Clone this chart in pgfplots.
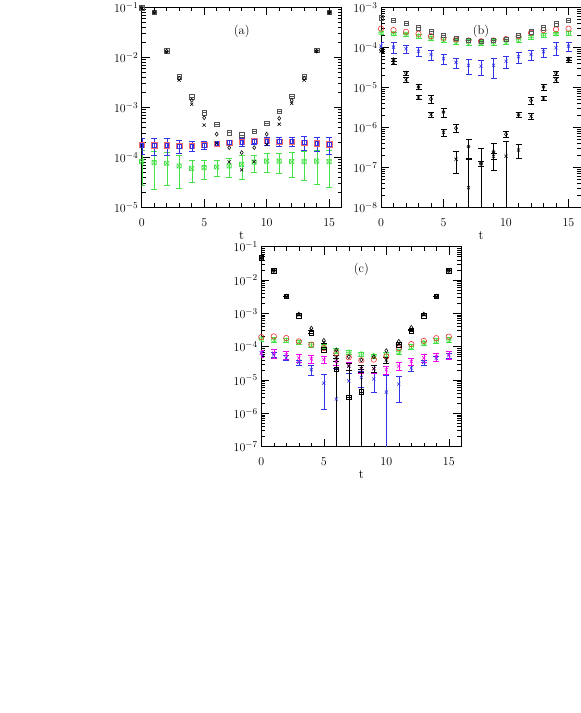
\documentclass[border=0pt]{standalone}
\usepackage{pgfplots}
\pgfplotsset{compat=1.18}

\definecolor{pRed}{RGB}{240,40,40}
\definecolor{pGreen}{RGB}{70,225,70}
\definecolor{pBlue}{RGB}{50,50,230}
\definecolor{pMag}{RGB}{240,0,240}
\definecolor{pGray}{RGB}{85,85,85}

% square with a bar, square with a cross
\pgfdeclareplotmark{sqline}{%
  \pgfpathrectangle{\pgfpoint{-\pgfplotmarksize}{-\pgfplotmarksize}}{\pgfpoint{2\pgfplotmarksize}{2\pgfplotmarksize}}%
  \pgfpathmoveto{\pgfpoint{-\pgfplotmarksize}{0pt}}%
  \pgfpathlineto{\pgfpoint{\pgfplotmarksize}{0pt}}%
  \pgfusepathqstroke}
\pgfdeclareplotmark{sqx}{%
  \pgfpathrectangle{\pgfpoint{-\pgfplotmarksize}{-\pgfplotmarksize}}{\pgfpoint{2\pgfplotmarksize}{2\pgfplotmarksize}}%
  \pgfpathmoveto{\pgfpoint{-\pgfplotmarksize}{-\pgfplotmarksize}}%
  \pgfpathlineto{\pgfpoint{\pgfplotmarksize}{\pgfplotmarksize}}%
  \pgfpathmoveto{\pgfpoint{-\pgfplotmarksize}{\pgfplotmarksize}}%
  \pgfpathlineto{\pgfpoint{\pgfplotmarksize}{-\pgfplotmarksize}}%
  \pgfusepathqstroke}

\pgfplotsset{
  ebar/.style={only marks, line width=0.55pt,
    error bars/y dir=both, error bars/y explicit,
    error bars/error mark options={rotate=90, mark size=3pt, line width=0.6pt}},
  dots/.style={only marks, line width=0.55pt},
}

\begin{document}
\begin{tikzpicture}
\useasboundingbox (0,0) rectangle (581pt,713pt);

% ---------------- (a) ----------------
\begin{axis}[at={(141.7pt,505.7pt)}, anchor=south west,
  scale only axis, width=200pt, height=200pt,
  ymode=log, xmin=0, xmax=16,
  xtick={0,5,10,15}, minor x tick num=4,
  tick align=inside, major tick length=8pt, minor tick length=4pt,
  axis line style={line width=0.8pt},
  every tick/.append style={line width=0.6pt, black},
  tick label style={font=\fontsize{13}{15}\selectfont},
  xticklabel style={yshift=-8pt},
  xlabel={t}, xlabel style={font=\fontsize{13}{14}\selectfont, yshift=2pt},
  mark size=2.2pt,
  ymin=1e-5, ymax=1e-1, ytick={1e-5,1e-4,1e-3,1e-2,1e-1}]
\addplot[pGreen, mark=sqx, ebar] coordinates {
  (0,8.2e-5) +- (0,5.5e-5) (1,7.8e-5) +- (0,5.5e-5) (2,7.6e-5) +- (0,4.8e-5)
  (3,6.7e-5) +- (0,4.3e-5) (4,6.0e-5) +- (0,2.9e-5) (5,6.2e-5) +- (0,2.5e-5)
  (6,6.4e-5) +- (0,2.3e-5) (7,6.7e-5) +- (0,2.8e-5) (8,7.2e-5) +- (0,3.6e-5)
  (9,8.0e-5) +- (0,3.0e-5) (10,8.4e-5) +- (0,3.4e-5) (11,8.4e-5) +- (0,3.7e-5)
  (12,8.2e-5) +- (0,4.2e-5) (13,8.2e-5) +- (0,4.7e-5) (14,8.4e-5) +- (0,5.5e-5)
  (15,8.2e-5) +- (0,5.7e-5)
};
\addplot[pRed!70!white, mark=square, mark size=2.6pt, dots] coordinates {
  (0,1.76e-4) (1,1.74e-4) (2,1.74e-4) (3,1.69e-4) (4,1.68e-4) (5,1.76e-4)
  (6,1.88e-4) (7,1.97e-4) (8,2.02e-4) (9,2.12e-4) (10,2.12e-4) (11,2.06e-4)
  (12,2.06e-4) (13,1.97e-4) (14,1.90e-4) (15,1.82e-4)
};
\addplot[pBlue, mark=square, mark size=1.9pt, ebar] coordinates {
  (0,1.76e-4) +- (0,6.0e-5) (1,1.74e-4) +- (0,6.4e-5) (2,1.74e-4) +- (0,6.4e-5)
  (3,1.69e-4) +- (0,5.0e-5) (4,1.68e-4) +- (0,3.8e-5) (5,1.76e-4) +- (0,3.0e-5)
  (6,1.88e-4) +- (0,1.5e-5) (7,1.97e-4) +- (0,2.2e-5) (8,2.02e-4) +- (0,3.5e-5)
  (9,2.12e-4) +- (0,3.3e-5) (10,2.12e-4) +- (0,4.0e-5) (11,2.06e-4) +- (0,4.2e-5)
  (12,2.06e-4) +- (0,4.2e-5) (13,1.97e-4) +- (0,6.2e-5) (14,1.90e-4) +- (0,6.1e-5)
  (15,1.82e-4) +- (0,6.6e-5)
};
\addplot[pGray, mark=sqline, dots] coordinates {
  (0,0.098) (1,0.080) (2,0.0135) (3,0.0041) (4,0.00161) (5,7.8e-4) (6,4.6e-4)
  (7,3.1e-4) (8,2.8e-4) (9,3.3e-4) (10,4.8e-4) (11,8.4e-4) (12,1.68e-3)
  (13,4.1e-3) (14,0.0138) (15,0.0805)
};
\addplot[black, mark=diamond, mark size=2pt, dots] coordinates {
  (0,0.098) (1,0.080) (2,0.0133) (3,0.0038) (4,0.00138) (5,6.2e-4) (6,2.9e-4)
  (7,1.56e-4) (8,1.24e-4) (9,1.56e-4) (10,2.9e-4) (11,6.0e-4) (12,1.38e-3)
  (13,3.8e-3) (14,0.0133) (15,0.079)
};
\addplot[black, mark=x, mark size=2.2pt, dots] coordinates {
  (0,0.097) (1,0.079) (2,0.013) (3,0.0035) (4,0.00115) (5,4.4e-4) (6,1.9e-4)
  (7,8.1e-5) (8,5.6e-5) (9,8.2e-5) (10,1.8e-4) (11,4.6e-4) (12,1.2e-3)
  (13,3.5e-3) (14,0.0132) (15,0.078)
};
\node[font=\fontsize{12.5}{14}\selectfont] at (rel axis cs:0.5,0.88) {(a)};
\end{axis}

% ---------------- (b) ----------------
\begin{axis}[at={(381pt,505.7pt)}, anchor=south west,
  scale only axis, width=200pt, height=200pt,
  ymode=log, xmin=0, xmax=16,
  xtick={0,5,10,15}, minor x tick num=4,
  tick align=inside, major tick length=8pt, minor tick length=4pt,
  axis line style={line width=0.8pt},
  every tick/.append style={line width=0.6pt, black},
  tick label style={font=\fontsize{13}{15}\selectfont},
  xticklabel style={yshift=-8pt},
  xlabel={t}, xlabel style={font=\fontsize{13}{14}\selectfont, yshift=2pt},
  mark size=2.2pt,
  ymin=1e-8, ymax=1e-3, ytick={1e-8,1e-7,1e-6,1e-5,1e-4,1e-3}]
\addplot[pBlue, mark=x, ebar] coordinates {
  (0,1.07e-4) +- (0,2.5e-5) (1,1.01e-4) +- (0,2.9e-5) (2,9.2e-5) +- (0,2.1e-5)
  (3,8.0e-5) +- (0,2.0e-5) (4,6.6e-5) +- (0,1.9e-5) (5,5.2e-5) +- (0,1.4e-5)
  (6,4.2e-5) +- (0,1.2e-5) (7,3.55e-5) +- (0,1.4e-5) (8,3.35e-5) +- (0,1.3e-5)
  (9,3.55e-5) +- (0,1.9e-5) (10,4.5e-5) +- (0,1.5e-5) (11,5.8e-5) +- (0,1.8e-5)
  (12,6.6e-5) +- (0,1.9e-5) (13,7.7e-5) +- (0,2.0e-5) (14,9.7e-5) +- (0,3.3e-5)
  (15,1.07e-4) +- (0,2.7e-5)
};
\addplot[pGreen, mark=oplus, mark size=2.4pt, ebar] coordinates {
  (0,2.31e-4) +- (0,2e-5) (1,2.18e-4) +- (0,2e-5) (2,2.10e-4) +- (0,2e-5)
  (3,1.90e-4) +- (0,2e-5) (4,1.69e-4) +- (0,2e-5) (5,1.57e-4) +- (0,2e-5)
  (6,1.42e-4) +- (0,2e-5) (7,1.34e-4) +- (0,2e-5) (8,1.30e-4) +- (0,2e-5)
  (9,1.34e-4) +- (0,2e-5) (10,1.42e-4) +- (0,2e-5) (11,1.57e-4) +- (0,2e-5)
  (12,1.75e-4) +- (0,2e-5) (13,2.0e-4) +- (0,2e-5) (14,2.18e-4) +- (0,2e-5)
  (15,2.25e-4) +- (0,2e-5)
};
\addplot[pRed, mark=o, mark size=2.7pt, dots] coordinates {
  (0,2.92e-4) (1,2.69e-4) (2,2.45e-4) (3,2.18e-4) (4,1.90e-4) (5,1.73e-4)
  (6,1.57e-4) (7,1.48e-4) (8,1.42e-4) (9,1.48e-4) (10,1.60e-4) (11,1.90e-4)
  (12,2.31e-4) (13,2.69e-4) (14,2.80e-4) (15,2.92e-4)
};
\addplot[pGray, mark=sqline, dots] coordinates {
  (0,5.5e-4) (1,4.8e-4) (2,3.96e-4) (3,3.09e-4) (4,2.45e-4) (5,1.98e-4)
  (6,1.66e-4) (7,1.51e-4) (8,1.42e-4) (9,1.51e-4) (10,1.60e-4) (11,1.98e-4)
  (12,2.45e-4) (13,3.09e-4) (14,3.89e-4) (15,4.8e-4)
};
\addplot[black, mark=diamond, mark size=2pt, ebar] coordinates {
  (0,8.7e-5) +- (0,1e-5) (1,4.9e-5) +- (0,5e-6) (2,2.28e-5) +- (0,3e-6)
  (3,1.02e-5) +- (0,1.5e-6) (4,5.1e-6) +- (0,1.2e-6) (5,2.4e-6) +- (0,6e-7)
  (6,9.5e-7) +- (0,2.2e-7) (7,3.3e-7) +- (0,1.7e-7)
  (8,1.25e-7) += (0,1.7e-7) -= (0,1.24e-7)
  (9,2.45e-7) +- (0,1.6e-7) (10,6.7e-7) +- (0,1.2e-7) (11,2.05e-6) +- (0,3e-7)
  (12,4.7e-6) +- (0,1.0e-6) (13,1.02e-5) +- (0,2e-6) (14,2.28e-5) +- (0,3e-6)
  (15,5.1e-5) +- (0,5e-6)
};
\addplot[black, mark=x, ebar] coordinates {
  (0,8.0e-5) +- (0,5e-6) (1,4.1e-5) +- (0,3e-6) (2,1.55e-5) +- (0,2e-6)
  (3,5.7e-6) +- (0,6e-7) (4,2.1e-6) +- (0,3e-7) (5,7.5e-7) +- (0,1.5e-7)
  (6,1.6e-7) +- (0,9e-8) (7,3.1e-8) += (0,1.4e-7) -= (0,3.0e-8)
  (8,1.25e-7) +- (0,2e-8) (9,1.9e-7) +- (0,3e-8)
  (10,1.9e-7) += (0,2.5e-7) -= (0,1.89e-7)
  (11,2.7e-7) +- (0,1e-7) (12,1.9e-6) +- (0,3e-7) (13,5.4e-6) +- (0,6e-7)
  (14,1.55e-5) +- (0,2e-6) (15,4.5e-5) +- (0,3e-6)
};
\node[font=\fontsize{12.5}{14}\selectfont] at (rel axis cs:0.5,0.88) {(b)};
\end{axis}

% ---------------- (c) ----------------
\begin{axis}[at={(261.3pt,266.3pt)}, anchor=south west,
  scale only axis, width=200pt, height=200pt,
  ymode=log, xmin=0, xmax=16,
  xtick={0,5,10,15}, minor x tick num=4,
  tick align=inside, major tick length=8pt, minor tick length=4pt,
  axis line style={line width=0.8pt},
  every tick/.append style={line width=0.6pt, black},
  tick label style={font=\fontsize{13}{15}\selectfont},
  xticklabel style={yshift=-8pt},
  xlabel={t}, xlabel style={font=\fontsize{13}{14}\selectfont, yshift=2pt},
  mark size=2.2pt,
  ymin=1e-7, ymax=1e-1, ytick={1e-7,1e-6,1e-5,1e-4,1e-3,1e-2,1e-1}]
\addplot[pBlue, mark=x, ebar] coordinates {
  (0,6.5e-5) +- (0,1e-5) (1,5.75e-5) +- (0,1e-5) (2,4.6e-5) +- (0,8e-6)
  (3,3.4e-5) +- (0,6e-6) (4,2.04e-5) +- (0,7e-6) (5,8.1e-6) +- (0,6.8e-6)
  (6,2.7e-6) += (0,2.0e-5) -= (0,2.69e-6)
  (7,9.4e-6) +- (0,6e-6) (8,1.2e-5) +- (0,6e-6) (9,1.07e-5) +- (0,6.5e-6)
  (10,4.35e-6) += (0,1.0e-5) -= (0,4.34e-6)
  (11,7.6e-6) +- (0,5.5e-6) (12,2.3e-5) +- (0,5e-6) (13,3.4e-5) +- (0,6e-6)
  (14,4.5e-5) +- (0,8e-6) (15,5.5e-5) +- (0,1e-5)
};
\addplot[pMag, mark=x, ebar] coordinates {
  (0,6.4e-5) +- (0,1.5e-5) (1,6.4e-5) +- (0,2e-5) (2,5.75e-5) +- (0,1.5e-5)
  (3,4.6e-5) +- (0,1.2e-5) (4,4.3e-5) +- (0,1.1e-5) (5,4.1e-5) +- (0,1e-5)
  (6,3.6e-5) +- (0,9e-6) (7,2.7e-5) +- (0,7e-6) (8,2.2e-5) +- (0,6e-6)
  (9,2.2e-5) +- (0,6e-6) (10,2.04e-5) +- (0,6e-6) (11,2.6e-5) +- (0,7e-6)
  (12,3.6e-5) +- (0,9e-6) (13,4.6e-5) +- (0,1.2e-5) (14,5.1e-5) +- (0,1.4e-5)
  (15,5.75e-5) +- (0,1.5e-5)
};
\addplot[pGreen, mark=oplus, mark size=2.4pt, ebar] coordinates {
  (0,1.7e-4) +- (0,2.5e-5) (1,1.62e-4) +- (0,2.5e-5) (2,1.55e-4) +- (0,2.3e-5)
  (3,1.35e-4) +- (0,2e-5) (4,1.15e-4) +- (0,1.7e-5) (5,1.02e-4) +- (0,1.5e-5)
  (6,7.7e-5) +- (0,1.2e-5) (7,6.8e-5) +- (0,1e-5) (8,6.0e-5) +- (0,9e-6)
  (9,5.3e-5) +- (0,8e-6) (10,5.75e-5) +- (0,9e-6) (11,7.2e-5) +- (0,1.1e-5)
  (12,1.0e-4) +- (0,1.5e-5) (13,1.3e-4) +- (0,2e-5) (14,1.5e-4) +- (0,2.3e-5)
  (15,1.65e-4) +- (0,2.5e-5)
};
\addplot[pRed, mark=o, mark size=2.7pt, dots] coordinates {
  (0,1.95e-4) (1,2.04e-4) (2,1.82e-4) (3,1.45e-4) (4,1.15e-4) (5,9.1e-5)
  (6,6.4e-5) (7,4.8e-5) (8,3.9e-5) (9,4.1e-5) (10,5.1e-5) (11,9.0e-5)
  (12,1.2e-4) (13,1.5e-4) (14,1.8e-4) (15,2.0e-4)
};
\addplot[black, mark=sqline, ebar] coordinates {
  (0,0.046) +- (0,0) (1,0.0191) +- (0,0) (2,3.2e-3) +- (0,0) (3,8.5e-4) +- (0,0)
  (4,2.57e-4) +- (0,0) (5,8.1e-5) +- (0,0)
  (6,2.1e-5) += (0,2.5e-5) -= (0,2.09e-5)
  (7,3.1e-6) += (0,1.7e-5) -= (0,3.09e-6)
  (8,4.4e-6) += (0,1.7e-5) -= (0,4.39e-6)
  (11,1.15e-4) +- (0,0) (12,3.0e-4) +- (0,0) (13,8.5e-4) +- (0,0)
  (14,3.2e-3) +- (0,0) (15,0.0191) +- (0,0)
};
\addplot[black, mark=diamond, mark size=2pt, dots] coordinates {
  (0,0.046) (1,0.0191) (2,3.3e-3) (3,9.5e-4) (4,3.6e-4) (5,1.55e-4) (6,8e-5)
  (7,5e-5) (8,4e-5) (9,5e-5) (10,7.6e-5) (11,1.45e-4) (12,3.8e-4) (13,9.5e-4)
  (14,3.3e-3) (15,0.0191)
};
\addplot[black, mark=x, ebar] coordinates {
  (0,0.046) +- (0,0) (1,0.0191) +- (0,0) (2,3.2e-3) +- (0,0) (3,9e-4) +- (0,0)
  (4,3.2e-4) +- (0,0) (5,1.3e-4) +- (0,0) (6,4.6e-5) +- (0,1e-5)
  (7,2.6e-5) +- (0,6e-6) (8,2.2e-5) +- (0,5e-6) (9,2.2e-5) +- (0,5e-6)
  (10,4.0e-5) +- (0,8e-6) (11,1.2e-4) +- (0,0) (12,3.4e-4) +- (0,0)
  (13,9e-4) +- (0,0) (14,3.2e-3) +- (0,0) (15,0.0191) +- (0,0)
};
\node[font=\fontsize{12.5}{14}\selectfont] at (rel axis cs:0.5,0.885) {(c)};
\end{axis}
\end{tikzpicture}
\end{document}
